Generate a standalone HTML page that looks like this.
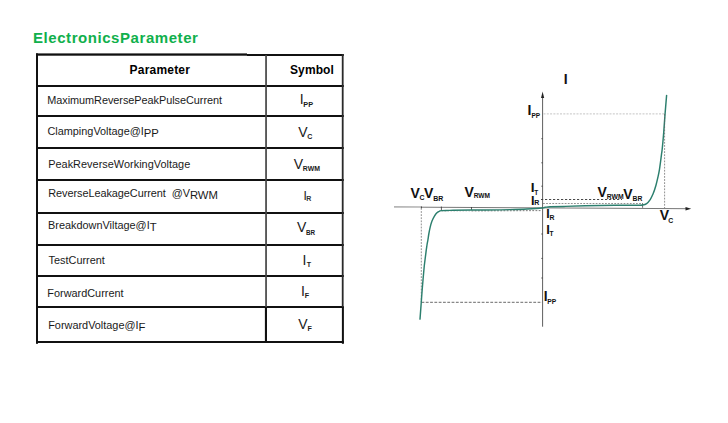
<!DOCTYPE html>
<html><head><meta charset="utf-8">
<style>
html,body{margin:0;padding:0;background:#fff;}
body{width:728px;height:423px;position:relative;overflow:hidden;font-family:"Liberation Sans",Arial,sans-serif;color:#1a1a1a;}
.l{position:absolute;background:#111;}
.t{position:absolute;white-space:nowrap;font-size:10.9px;line-height:14px;}
.b{font-weight:bold;font-size:12px;color:#000;}
.y{font-size:14px;line-height:18px;}
.s{font-size:7.1px;font-weight:bold;position:relative;top:2.8px;margin-left:0.4px}
.u{position:relative;top:1.5px;font-size:11.3px;}
h1{position:absolute;left:33px;top:28px;margin:0;font-size:15px;line-height:20px;color:#10b04c;font-weight:bold;letter-spacing:0.56px;white-space:nowrap;}
</style></head><body>
<h1 id="title">ElectronicsParameter</h1>
<!-- table lines -->

<div class="t b" id="hp" style="left:129.6px;top:63px;letter-spacing:0.2px">Parameter</div>
<div class="t b" id="hs" style="left:290px;top:63px;letter-spacing:0.1px">Symbol</div>

<div class="t" id="r1" style="left:47.2px;top:93px;letter-spacing:-0.045px">MaximumReversePeakPulseCurrent</div>
<div class="t" id="r2" style="left:47.4px;top:124px">ClampingVoltage@I<span class="u">PP</span></div>
<div class="t" id="r3" style="left:48.2px;top:157px;letter-spacing:0.025px">PeakReverseWorkingVoltage</div>
<div class="t" id="r4" style="left:48.2px;top:186px;letter-spacing:-0.05px">ReverseLeakageCurrent&nbsp;&nbsp;@V<span class="u">RWM</span></div>
<div class="t" id="r5" style="left:48px;top:218px">BreakdownViltage@I<span class="u">T</span></div>
<div class="t" id="r6" style="left:48.6px;top:253px">TestCurrent</div>
<div class="t" id="r7" style="left:47.3px;top:286px">ForwardCurrent</div>
<div class="t" id="r8" style="left:48.2px;top:318px">ForwardVoltage@I<span class="u">F</span></div>


<div class="t y" id="s1" style="left:299.8px;top:90px">I<span class="s" style="font-size:7.3px;margin-left:-0.4px">PP</span></div>
<div class="t y" id="s2" style="left:298.3px;top:123px">V<span class="s" style="top:2.2px;margin-left:-0.3px">C</span></div>
<div class="t y" id="s3" style="left:293.8px;top:155px">V<span class="s" style="font-size:6.9px;top:1.7px;margin-left:-0.3px">RWM</span></div>
<div class="t y" id="s4" style="left:303.4px;top:187px;font-size:12px">I<span class="s" style="font-size:7px;top:0.6px;margin-left:-0.4px;color:#333">R</span></div>
<div class="t y" id="s5" style="left:297px;top:218px">V<span class="s" style="font-size:6.3px;top:3.2px;margin-left:-0.3px">BR</span></div>
<div class="t y" id="s6" style="left:302.4px;top:251px">I<span class="s" style="top:1.7px">T</span></div>
<div class="t y" id="s7" style="left:301px;top:282px">I<span class="s" style="top:2.1px;margin-left:-0.2px">F</span></div>
<div class="t y" id="s8" style="left:298.3px;top:315px">V<span class="s" style="top:1.8px;margin-left:-0.2px">F</span></div>
<svg id="chart" width="728" height="423" viewBox="0 0 728 423" style="position:absolute;left:0;top:0" font-family="Liberation Sans, Arial, sans-serif" font-weight="bold" fill="#111">
<g fill="#111">
<rect x="36" y="53.4" width="211" height="2.3"/>
<rect x="247" y="54" width="96.8" height="2"/>
<rect x="36" y="85" width="307.8" height="2"/>
<rect x="36" y="115" width="307.8" height="2"/>
<rect x="36" y="147" width="307.8" height="2"/>
<rect x="36" y="179" width="307.8" height="2"/>
<rect x="36" y="212" width="307.8" height="2"/>
<rect x="36" y="244" width="307.8" height="2"/>
<rect x="36" y="275" width="307.8" height="2"/>
<rect x="36" y="306" width="307.8" height="2"/>
<rect x="36" y="341" width="307.9" height="2"/>
<rect x="36" y="53.4" width="2" height="290.4"/>
<rect x="265.2" y="55" width="1.7" height="252" fill="#454545"/>
<rect x="264.9" y="307" width="2.1" height="35"/>
<rect x="341.8" y="54" width="1.8" height="253" fill="#2a2a2a"/>
<rect x="341.9" y="307" width="2" height="36.8"/>
</g>
<!-- axes -->
<line x1="394" y1="206.9" x2="422" y2="207.05" stroke="#b5b5b5" stroke-width="1.6"/>
<line x1="421" y1="207.2" x2="686" y2="208.7" stroke="#4a4a4a" stroke-width="0.75"/>
<polygon points="691.2,208.8 685.5,207.1 685.5,210.5" fill="#222"/>
<line x1="542.6" y1="98" x2="542.6" y2="326.7" stroke="#333" stroke-width="0.8"/>
<path d="M541.3,138.7h1.3M541.3,162.8h1.3M541.3,186.2h1.3M541.3,234h1.3M541.3,258.4h1.3M541.3,278h1.3" stroke="#333" stroke-width="0.8"/>
<polygon points="542.6,91.5 541,98 544.2,98" fill="#222"/>
<!-- dotted / dashed guides -->
<line x1="543.5" y1="113.9" x2="665" y2="113.9" stroke="#c4c4c4" stroke-width="1" stroke-dasharray="2 1.3"/>
<line x1="541" y1="199.5" x2="622" y2="199.5" stroke="#333" stroke-width="0.9" stroke-dasharray="2.2 1.8"/>
<line x1="543" y1="203.5" x2="643" y2="203.5" stroke="#777" stroke-width="0.8" stroke-dasharray="1.8 1.3"/>
<line x1="421.3" y1="208" x2="421.3" y2="302" stroke="#606060" stroke-width="0.7" stroke-dasharray="1.8 1.3"/>
<line x1="421.5" y1="302.3" x2="542" y2="302.3" stroke="#444" stroke-width="0.8" stroke-dasharray="2.8 1.5"/>
<line x1="441.5" y1="211" x2="471.5" y2="210.9" stroke="#aaa" stroke-width="0.8" stroke-dasharray="1.6 1.4"/>
<line x1="471.5" y1="210.9" x2="541.5" y2="210.6" stroke="#555" stroke-width="0.8" stroke-dasharray="1.8 1.4"/>
<line x1="441.4" y1="206.6" x2="441.4" y2="210.5" stroke="#333" stroke-width="0.8"/>
<line x1="421.4" y1="206.6" x2="421.4" y2="208.2" stroke="#333" stroke-width="0.8"/>
<line x1="642.6" y1="203.4" x2="642.6" y2="207.8" stroke="#444" stroke-width="0.8"/>
<line x1="471.5" y1="207" x2="471.5" y2="210" stroke="#333" stroke-width="0.8"/>
<!-- curve -->
<path d="M420.0,319.1 C420.2,316.2 420.9,307.4 421.3,301.7 C421.7,296.0 422.1,290.4 422.6,284.7 C423.1,279.0 423.7,271.8 424.1,267.7 C424.5,263.6 424.7,262.5 425.0,260.0 C425.3,257.5 425.6,255.3 425.9,252.8 C426.2,250.3 426.7,247.1 427.0,245.0 C427.3,242.9 427.6,241.9 427.9,240.0 C428.2,238.1 428.5,235.7 428.9,233.5 C429.3,231.3 429.8,228.8 430.3,226.7 C430.8,224.6 431.3,222.7 432.0,221.0 C432.7,219.3 433.5,217.6 434.3,216.3 C435.1,215.0 435.9,213.8 436.7,213.0 C437.5,212.2 438.3,211.7 439.1,211.3 C439.8,210.9 440.2,210.8 441.4,210.6 C442.6,210.4 444.1,210.4 446.0,210.4 C447.9,210.4 447.3,210.4 453.0,210.3 C458.7,210.2 470.5,210.1 480.0,210.0 C489.5,209.9 502.2,209.8 510.0,209.6 C517.8,209.4 521.7,209.3 527.0,209.0 C532.3,208.7 538.8,208.3 541.8,208.0 C544.8,207.7 543.6,207.5 545.0,207.3 C546.4,207.2 546.7,207.0 550.0,206.8 C553.3,206.7 559.2,206.6 565.0,206.4 C570.8,206.2 576.7,206.0 585.0,205.8 C593.3,205.6 606.5,205.4 615.0,205.3 C623.5,205.2 631.4,205.2 636.0,205.2 C640.6,205.1 640.9,205.3 642.7,205.0 C644.5,204.7 645.4,204.5 646.6,203.6 C647.9,202.7 649.1,201.2 650.2,199.6 C651.3,198.0 652.0,196.3 653.0,194.0 C654.0,191.7 655.1,188.3 655.9,185.5 C656.7,182.7 657.4,179.5 658.0,176.9 C658.6,174.3 659.0,172.3 659.4,169.9 C659.8,167.5 660.0,165.4 660.4,162.8 C660.8,160.2 661.2,156.4 661.5,154.3 C661.8,152.2 661.7,153.6 662.1,150.0 C662.5,146.4 663.2,138.7 663.7,132.6 C664.2,126.5 664.6,119.6 665.1,113.4 C665.6,107.2 666.4,98.4 666.6,95.4" fill="none" stroke="#2c7f6e" stroke-width="1.45" stroke-linecap="round" stroke-linejoin="round"/>
<line x1="664.6" y1="114" x2="664.6" y2="208" stroke="#606060" stroke-width="0.7" stroke-dasharray="1.8 1.3"/>
<!-- labels -->
<text x="563.7" y="84" font-size="14">I</text>
<text x="527.5" y="114.6" font-size="14">I<tspan font-size="6.5" dy="3">PP</tspan></text>
<text x="530.85" y="191.9" font-size="13.7">I<tspan font-size="6.5" dx="-0.4" dy="3">T</tspan></text>
<text x="530.9" y="204.5" font-size="12.7">I<tspan font-size="7" dx="-0.3" dy="0.5">R</tspan></text>
<text x="546.2" y="218.1" font-size="12.3">I<tspan font-size="6.9" dx="-0.2" dy="2.1">R</tspan></text>
<text x="546.15" y="233.9" font-size="13">I<tspan font-size="6.5" dx="-0.2" dy="1.9">T</tspan></text>
<text x="543.85" y="300.9" font-size="13.8">I<tspan font-size="6.7" dx="-0.5" dy="2.96">PP</tspan></text>
<text x="410.5" y="198" font-size="14">V<tspan font-size="6.9" dx="-0.3" dy="1.5">C</tspan></text>
<text x="424.0" y="198" font-size="14">V<tspan font-size="7" dx="-0.1" dy="2.9">BR</tspan></text>
<text x="464.5" y="197.1" font-size="14">V<tspan font-size="6.55" dx="-0.1" dy="1">RWM</tspan></text>
<text x="597.6" y="196.7" font-size="14">V<tspan font-size="6.8" dx="-0.2" dy="2.5">RWM</tspan></text>
<text x="623.3" y="198.8" font-size="14">V<tspan font-size="6.8" dx="-0.15" dy="2.25">BR</tspan></text>
<text x="659.7" y="220.1" font-size="14">V<tspan font-size="6.9" dx="-0.67" dy="3.3">C</tspan></text>
</svg>
</body></html>
